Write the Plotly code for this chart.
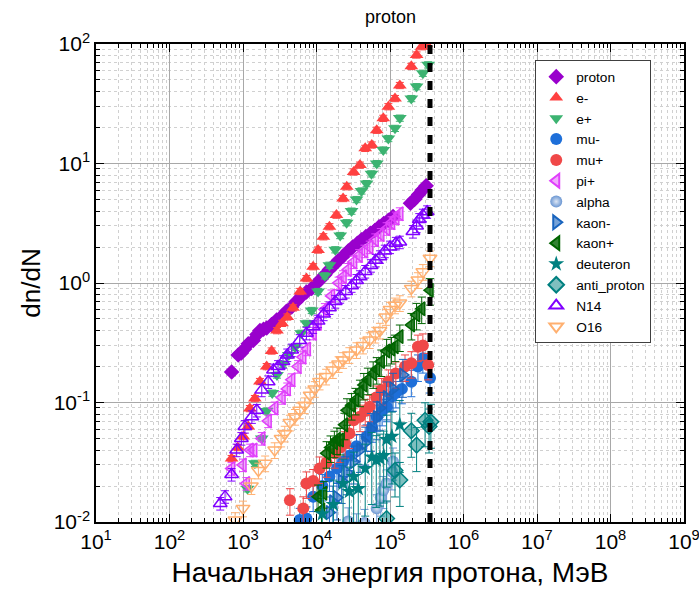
import plotly.graph_objects as go

E_MAX = 3.5e5  # initial proton energy, MeV (dashed line)

x_tick_vals = [1e1, 1e2, 1e3, 1e4, 1e5, 1e6, 1e7, 1e8, 1e9]
x_tick_text = ["10<sup>1</sup>", "10<sup>2</sup>", "10<sup>3</sup>", "10<sup>4</sup>", "10<sup>5</sup>",
               "10<sup>6</sup>", "10<sup>7</sup>", "10<sup>8</sup>", "10<sup>9</sup>"]
y_tick_vals = [1e-2, 1e-1, 1e0, 1e1, 1e2]
y_tick_text = ["10<sup>-2</sup>", "10<sup>-1</sup>", "10<sup>0</sup>", "10<sup>1</sup>", "10<sup>2</sup>"]

proton_x = [700, 860, 950, 1050, 1180, 1380, 1550, 1700, 1900, 2100, 2450, 2870, 3400, 3900, 4600, 5300, 6200, 7300, 8600, 10000,
            11500, 13000, 15000, 17500, 20000, 23000, 27000, 31000, 36000, 41000, 47000, 54000, 62000, 71000, 82000, 95000,
            110000, 190000, 215000, 245000, 275000, 310000]
proton_y = [0.18, 0.25, 0.26, 0.28, 0.31, 0.33, 0.37, 0.40, 0.41, 0.42, 0.45, 0.49, 0.53, 0.58, 0.63, 0.70, 0.77, 0.84, 0.90, 0.99,
            1.08, 1.17, 1.30, 1.42, 1.55, 1.68, 1.85, 2.0, 2.15, 2.3, 2.45, 2.6, 2.75, 2.95, 3.15, 3.35,
            3.6, 4.65, 5.0, 5.5, 6.0, 6.5]

e_minus_x = [700, 850, 1010, 1180, 1240, 1450, 1700, 2100, 2450, 2900, 3400, 4000, 4800, 6000, 7300, 9000, 10500, 12400,
             15000, 18700, 23000, 25800, 32000, 39000, 46000, 56500, 66000, 81000, 95000, 117000, 136000, 195000, 230000,
             270000, 310000]
e_minus_y = [0.034, 0.042, 0.052, 0.063, 0.089, 0.108, 0.15, 0.20, 0.27, 0.40, 0.46, 0.52, 0.62, 0.85, 1.09, 1.37, 1.89, 2.44,
             2.96, 3.7, 5.1, 6.4, 8.5, 9.7, 13.4, 14.3, 19.0, 23.9, 29.9, 35.0, 45.0, 65.0, 81.0, 95.0, 100.0]

e_plus_x = [1150, 1450, 1800, 2100, 2500, 2900, 3500, 4200, 5100, 6200, 7300, 8600, 10500, 13000, 15000, 18000, 21000,
            25700, 30000, 35000, 41000, 48000, 56000, 66000, 81000, 95000, 117000, 136000, 195000, 230000, 280000, 330000]
e_plus_y = [0.019, 0.031, 0.05, 0.085, 0.12, 0.17, 0.21, 0.25, 0.29, 0.38, 0.46, 0.59, 0.85, 1.15, 1.41, 1.9, 2.5,
            3.2, 4.0, 5.0, 5.9, 6.8, 8.2, 10.0, 13.0, 16.2, 19.7, 24.0, 35.0, 44.0, 57.0, 67.0]

mu_minus_x = [5900, 7300, 9000, 12000, 15000, 19000, 23000, 28500, 35000, 48000, 57000, 66000, 78000, 90000, 106000,
              120000, 145000, 195000, 240000, 280000, 350000]
mu_minus_y = [0.0104, 0.0107, 0.0163, 0.02, 0.024, 0.028, 0.032, 0.036, 0.043, 0.052, 0.062, 0.076, 0.085, 0.092, 0.112,
              0.12, 0.13, 0.149, 0.2, 0.235, 0.16]

mu_plus_x = [4350, 6600, 7300, 9000, 11000, 13700, 17700, 21000, 24500, 28000, 32000, 39000, 46000, 53000, 65000, 77000,
             95000, 120000, 160000, 195000, 240000, 280000, 330000]
mu_plus_y = [0.0152, 0.013, 0.021, 0.022, 0.028, 0.0315, 0.0376, 0.042, 0.0456, 0.055, 0.071, 0.076, 0.085, 0.092, 0.11,
             0.127, 0.15, 0.175, 0.2, 0.213, 0.293, 0.30, 0.206]

pi_plus_x = [700, 1000, 1110, 1250, 1400, 1800, 2200, 2700, 3400, 4000, 4600, 5600, 6500, 7500, 9000, 10500, 13000, 16000,
             20000, 23000, 27000, 32000, 38000, 45000, 53000, 63000, 75000, 90000, 105000, 120000, 136000]
pi_plus_y = [0.028, 0.03, 0.021, 0.04, 0.04, 0.05, 0.07, 0.09, 0.11, 0.13, 0.155, 0.2, 0.24, 0.28, 0.38, 0.46, 0.6, 0.78,
             1.0, 1.13, 1.3, 1.5, 1.7, 1.85, 2.0, 2.3, 2.55, 2.85, 3.2, 3.5, 3.8]

alpha_x = [27000, 35000, 45000, 66000, 75000, 81000, 90000, 106000, 110000]
alpha_y = [0.0101, 0.009, 0.0098, 0.013, 0.016, 0.0185, 0.021, 0.0265, 0.032]

kaon_minus_x = [15000, 16700, 19000, 22000, 26000, 32000, 39000, 46000, 55000, 66000, 73000, 90000, 110000, 150000]
kaon_minus_y = [0.012, 0.0148, 0.016, 0.022, 0.026, 0.032, 0.04, 0.046, 0.06, 0.075, 0.09, 0.11, 0.13, 0.17]

kaon_plus_x = [10500, 11700, 12500, 13700, 15500, 17500, 19000, 21000, 24000, 26000, 30000, 34000, 39000, 44000, 50000,
               59000, 66000, 76000, 90000, 105000, 117000, 136000, 195000, 230000, 270000, 350000]
kaon_plus_y = [0.0163, 0.0126, 0.0174, 0.0376, 0.042, 0.046, 0.049, 0.0485, 0.065, 0.086, 0.095, 0.105, 0.123, 0.14, 0.155,
               0.175, 0.19, 0.22, 0.27, 0.28, 0.293, 0.356, 0.445, 0.54, 0.61, 0.87]

deuteron_x = [12000, 17000, 23000, 28000, 32000, 37000, 46000, 56500, 65000, 73000, 82000, 90000, 106000, 136000]
deuteron_y = [0.0117, 0.014, 0.021, 0.018, 0.024, 0.019, 0.028, 0.035, 0.033, 0.034, 0.036, 0.049, 0.052, 0.065]

anti_proton_x = [90000, 117000, 136000, 195000, 230000, 300000, 340000, 360000]
anti_proton_y = [0.0107, 0.027, 0.0225, 0.058, 0.044, 0.071, 0.063, 0.069]

N14_x = [490, 570, 700, 820, 950, 1060, 1320, 1540, 1800, 2200, 2600, 3000, 3500, 4000, 4600, 5900, 7300, 9000, 10500,
         12500, 15000, 18000, 21000, 25000, 30000, 35000, 39000, 46000, 55000, 64000, 73000, 85000, 100000, 120000,
         136000, 205000, 230000, 250000, 280000, 320000]
N14_y = [0.0143, 0.0163, 0.025, 0.04, 0.05, 0.063, 0.076, 0.086, 0.127, 0.149, 0.187, 0.2, 0.22, 0.25, 0.275, 0.33, 0.38,
         0.43, 0.48, 0.55, 0.62, 0.7, 0.77, 0.85, 0.95, 1.05, 1.13, 1.25, 1.4, 1.55, 1.66, 1.85, 2.0, 2.15, 2.2, 2.7, 3.0,
         3.4, 3.7, 3.95]

O16_x = [780, 1000, 1300, 1620, 2000, 2700, 3300, 3700, 4350, 5100, 5900, 6900, 8200, 9500, 11000, 13500, 16700, 20000,
         23000, 28000, 35000, 43000, 53000, 63000, 73000, 88000, 100000, 117000, 136000, 195000, 240000, 280000, 350000]
O16_y = [0.0104, 0.013, 0.02, 0.027, 0.031, 0.04, 0.05, 0.055, 0.068, 0.076, 0.086, 0.095, 0.115, 0.13, 0.15, 0.165, 0.187,
         0.21, 0.227, 0.25, 0.275, 0.3, 0.333, 0.37, 0.4, 0.52, 0.6, 0.65, 0.68, 0.9, 1.06, 1.24, 1.61]

# name, x, y, symbol, fill, line colour, relative error (%)
series = [
    ("proton", proton_x, proton_y, "diamond", "#9900CC", "#9900CC", 6),
    ("e-", e_minus_x, e_minus_y, "triangle-up", "#FF4040", "#FF4040", 6),
    ("e+", e_plus_x, e_plus_y, "triangle-down", "#3CB371", "#3CB371", 6),
    ("mu-", mu_minus_x, mu_minus_y, "circle", "#1E6FD9", "#1E6FD9", 25),
    ("mu+", mu_plus_x, mu_plus_y, "circle", "#F04848", "#F04848", 25),
    ("pi+", pi_plus_x, pi_plus_y, "triangle-left", "rgba(224,64,251,0.45)", "#E040FB", 12),
    ("alpha", alpha_x, alpha_y, "circle", "#6A96D2", "#6A96D2", 30),
    ("kaon-", kaon_minus_x, kaon_minus_y, "triangle-right", "rgba(25,100,190,0.6)", "#1964BE", 35),
    ("kaon+", kaon_plus_x, kaon_plus_y, "triangle-left", "rgba(0,100,0,0.8)", "#006400", 25),
    ("deuteron", deuteron_x, deuteron_y, "star", "#008080", "#008080", 60),
    ("anti_proton", anti_proton_x, anti_proton_y, "diamond", "rgba(0,128,128,0.5)", "#008080", 40),
    ("N14", N14_x, N14_y, "triangle-up-open", "#8000FF", "#8000FF", 12),
    ("O16", O16_x, O16_y, "triangle-down-open", "#FFB070", "#FFB070", 15),
]

fig = go.Figure()
for name, xs, ys, sym, fill, line, err in series:
    marker = dict(symbol=sym, size=12, color=fill,
                  line=dict(color=line, width=1.5 if ("open" in sym or fill != line) else 0))
    if name == "alpha":
        marker["gradient"] = dict(type="radial", color="#DCE6F5")
    fig.add_trace(go.Scatter(
        x=xs, y=ys, mode="markers", name=name, marker=marker,
        error_y=dict(type="percent", value=err, color=line, thickness=1, width=4),
    ))

fig.add_trace(go.Scatter(
    x=[E_MAX, E_MAX], y=[y_tick_vals[0], y_tick_vals[-1]], mode="lines", showlegend=False, hoverinfo="skip",
    line=dict(color="black", width=5, dash="9px,9px"),
))

axis_common = dict(
    type="log", showline=True, linecolor="black", linewidth=1.5, mirror="ticks",
    ticks="inside", ticklen=8, tickwidth=1.2, tickcolor="black",
    showgrid=True, gridcolor="#A8A8A8", gridwidth=1, zeroline=False,
    tickfont=dict(size=21, color="black"), ticklabeloverflow="allow",
    minor=dict(ticks="inside", ticklen=4, tickcolor="black", dtick="D1",
               showgrid=True, gridcolor="#D0D0D0", griddash="dot", gridwidth=1),
)

fig.update_layout(
    width=699, height=597, template="none",
    paper_bgcolor="white", plot_bgcolor="white",
    margin=dict(l=96, r=15, t=44, b=75),
    font=dict(family="Arial, Liberation Sans, sans-serif", color="black"),
    xaxis=dict(axis_common, range=[1, 9], tickmode="array", tickvals=x_tick_vals, ticktext=x_tick_text,
               title=dict(text="Начальная энергия протона, МэВ", font=dict(size=28), standoff=10)),
    yaxis=dict(axis_common, range=[-2, 2], tickmode="array", tickvals=y_tick_vals, ticktext=y_tick_text,
               title=dict(text="dn/dN", font=dict(size=26), standoff=6)),
    legend=dict(x=0.747, y=0.966, xanchor="left", yanchor="top", bgcolor="white",
                bordercolor="#404040", borderwidth=1, font=dict(size=13.7), itemsizing="constant",
                entrywidth=100, entrywidthmode="pixels"),
    showlegend=True,
    annotations=[dict(text="proton", xref="paper", yref="paper", x=0.5, y=1, xanchor="center",
                      yanchor="bottom", yshift=15, showarrow=False, font=dict(size=18, color="black"))],
)

fig.write_html("out.html")
